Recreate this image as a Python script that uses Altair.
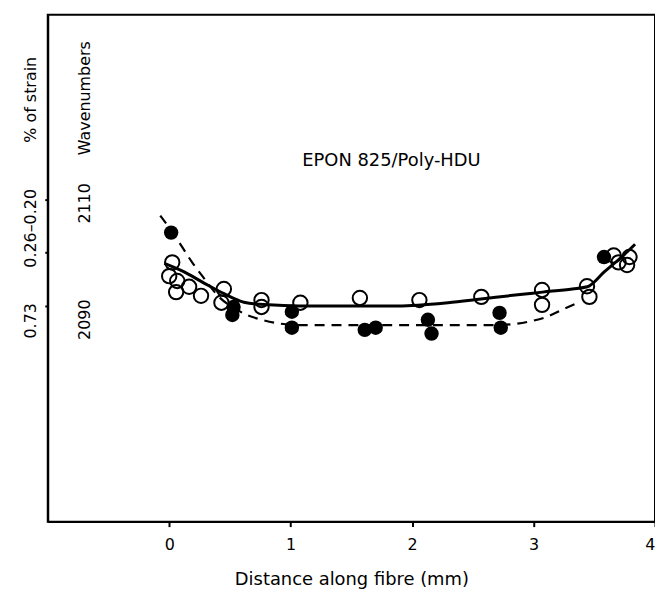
import altair as alt
import pandas as pd

# ---- data ----
open_x = [0.025, 0.0, 0.066, 0.057, 0.164, 0.262, 0.45, 0.43, 0.76, 0.76, 1.08, 1.57,
          2.06, 2.57, 3.07, 3.07, 3.44, 3.46, 3.66, 3.70, 3.77, 3.79]
open_y = [2098.2, 2095.6, 2094.7, 2092.6, 2093.6, 2091.9, 2093.2, 2090.6, 2091.1, 2089.8,
          2090.6, 2091.5, 2091.1, 2091.7, 2093.0, 2090.2, 2093.7, 2091.7, 2099.5, 2098.2,
          2097.7, 2099.2]

filled_x = [0.016, 0.53, 0.52, 1.01, 1.01, 1.61, 1.70, 2.13, 2.16, 2.72, 2.73, 3.58]
filled_y = [2103.8, 2089.8, 2088.3, 2088.9, 2085.9, 2085.5, 2085.9, 2087.4, 2084.8,
            2088.7, 2085.9, 2099.2]

solid_x = [-0.04, 0.123, 0.287, 0.451, 0.615, 0.82, 1.066, 1.475, 1.885, 2.295, 2.566,
           2.869, 3.074, 3.32, 3.443, 3.582, 3.73, 3.836]
solid_y = [2098.0, 2096.4, 2094.3, 2092.3, 2090.7, 2090.2, 2090.0, 2090.0, 2090.0, 2090.6,
           2091.3, 2092.1, 2092.6, 2093.2, 2093.6, 2096.4, 2099.3, 2101.6]

dash_x = [-0.074, 0.016, 0.098, 0.189, 0.287, 0.41, 0.533, 0.64, 0.762, 0.877, 1.066,
          1.885, 2.705, 2.844, 2.992, 3.09, 3.238, 3.377]
dash_y = [2107.0, 2104.2, 2101.4, 2098.2, 2095.2, 2091.7, 2089.6, 2088.3, 2087.4, 2086.8,
          2086.4, 2086.4, 2086.4, 2086.6, 2087.2, 2087.8, 2089.3, 2090.7]

x_ticks = [0, 1, 2, 3, 4]
y_ticks = [2090, 2100, 2110]

wave_texts = ["Wavenumbers", "2110", "2090"]
wave_pos = [2129.1, 2109.3, 2087.4]
strain_texts = ["% of strain", "0.26\u20130.20", "0.73"]
strain_pos = [2128.8, 2104.6, 2087.2]

title_text = ["EPON 825/Poly-HDU"]
title_x = [1.83]
title_y = [2117.3]

FONT = "DejaVu Sans"

xs = alt.Scale(domain=[-1, 4], nice=False, zero=False)
ys = alt.Scale(domain=[2049.4, 2144.8], nice=False, zero=False)

x_axis = alt.Axis(values=x_ticks, title="Distance along fibre (mm)", grid=False,
                  tickSize=5, tickWidth=2, tickColor="black", domainColor="black",
                  domainWidth=2, labelFontSize=16, titleFontSize=18, labelPadding=10,
                  titlePadding=18, labelColor="black", titleColor="black",
                  titleFontWeight="normal", labelFont=FONT, titleFont=FONT, format="d")
y_axis = alt.Axis(values=y_ticks, labels=False, title=None, grid=False, tickSize=3,
                  tickWidth=2, tickColor="black", domainColor="black", domainWidth=2)


def enc_xy():
    return dict(x=alt.X("x:Q", scale=xs, axis=x_axis),
                y=alt.Y("y:Q", scale=ys, axis=y_axis))


df_open = pd.DataFrame({"x": open_x, "y": open_y})
df_filled = pd.DataFrame({"x": filled_x, "y": filled_y})
df_solid = pd.DataFrame({"x": solid_x, "y": solid_y})
df_dash = pd.DataFrame({"x": dash_x, "y": dash_y})
df_wave = pd.DataFrame({"t": wave_texts, "y": wave_pos})
df_strain = pd.DataFrame({"t": strain_texts, "y": strain_pos})
df_title = pd.DataFrame({"t": title_text, "x": title_x, "y": title_y})

solid = alt.Chart(df_solid).mark_line(color="black", strokeWidth=3,
                                      interpolate="monotone").encode(**enc_xy())
dashed = alt.Chart(df_dash).mark_line(color="black", strokeWidth=2.2, strokeDash=[10, 7],
                                      interpolate="monotone").encode(**enc_xy())
opens = alt.Chart(df_open).mark_point(shape="circle", filled=False, color="black",
                                      size=210, strokeWidth=2, opacity=1).encode(**enc_xy())
fills = alt.Chart(df_filled).mark_circle(color="black", size=210,
                                         opacity=1).encode(**enc_xy())

wave_lbl = alt.Chart(df_wave).mark_text(angle=270, font=FONT, fontSize=16, color="black",
                                        align="center", baseline="middle").encode(
    x=alt.value(38), y=alt.Y("y:Q", scale=ys, axis=y_axis), text="t:N")
strain_lbl = alt.Chart(df_strain).mark_text(angle=270, font=FONT, fontSize=16, color="black",
                                            align="center", baseline="middle").encode(
    x=alt.value(-17), y=alt.Y("y:Q", scale=ys, axis=y_axis), text="t:N")
title_lbl = alt.Chart(df_title).mark_text(font=FONT, fontSize=18, color="black",
                                          align="center", baseline="middle").encode(
    **enc_xy(), text="t:N")

chart = alt.layer(solid, dashed, opens, fills, wave_lbl, strain_lbl, title_lbl).properties(
    width=611, height=510,
    autosize=alt.AutoSizeParams(type="none"),
    padding={"left": 40, "top": 5, "right": 0, "bottom": 70},
    background="white",
).configure_view(stroke="black", strokeWidth=2)

chart.save("out.html", embed_options={"renderer": "svg", "actions": False})
